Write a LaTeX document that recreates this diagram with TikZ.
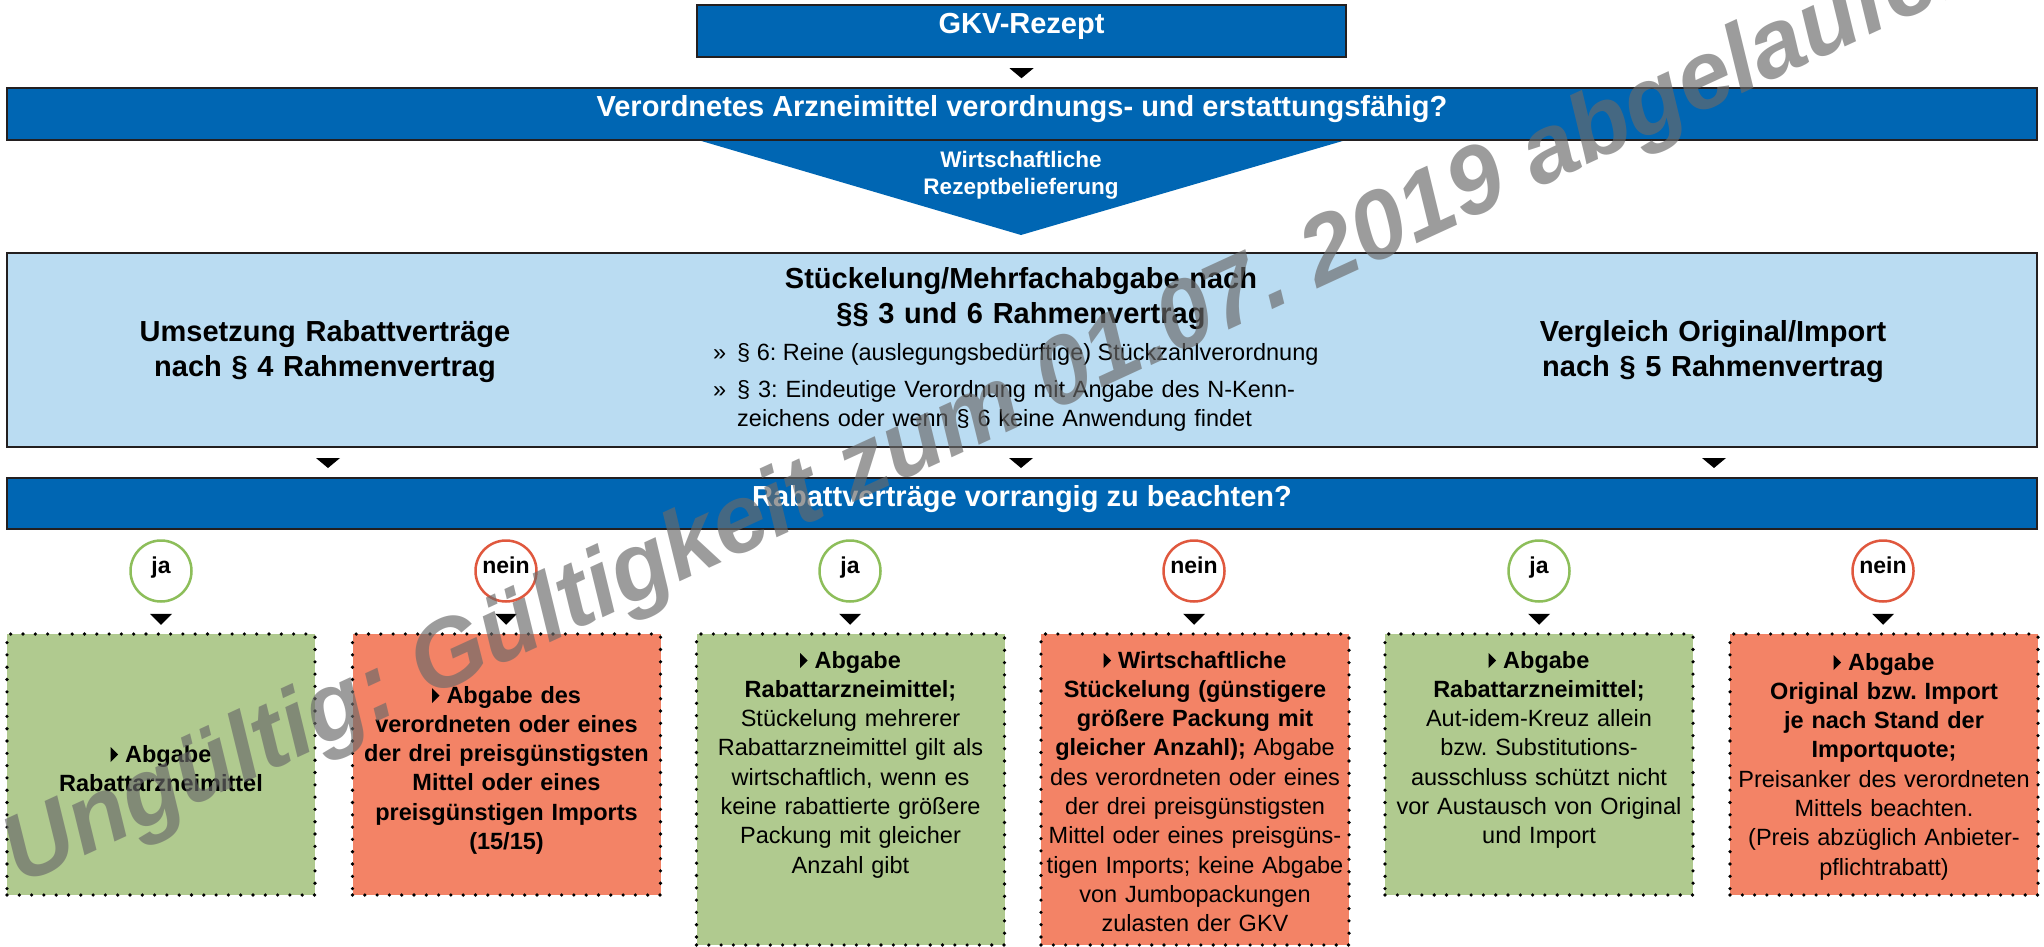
\documentclass[tikz,border=0pt]{standalone}
\usepackage{fontspec}
\setmainfont{Liberation Sans}
\usetikzlibrary{calc}
\frenchspacing
\definecolor{kblue}{RGB}{0,102,179}
\definecolor{klight}{RGB}{186,220,242}
\definecolor{kdark}{RGB}{35,31,32}
\definecolor{kgreen}{RGB}{176,202,143}
\definecolor{kred}{RGB}{243,131,102}
\definecolor{cgreen}{RGB}{141,190,90}
\definecolor{cred}{RGB}{224,88,62}
\definecolor{wmgray}{RGB}{106,106,106}
\newcommand\kHead{\fontsize{29}{35}\selectfont\bfseries}
\newcommand\kBody{\fontsize{23.5}{29.3}\selectfont}
\newcommand\kSmall{\fontsize{22.5}{27}\selectfont\bfseries}
\newcommand\ktri{\tikz[x=1pt,y=1pt,baseline=0pt]\fill[black] (0,0) -- (0,15) -- (7.5,7.5) -- cycle;\hspace{7pt}}
\tikzset{
  oneline/.style={text height=0.75em, text depth=0.17em},
  bar/.style={rectangle, fill=kblue, draw=kdark, line width=2.5pt, text=white, font=\kHead, oneline, inner sep=0pt},
  lbbox/.style={rectangle, fill=klight, draw=kdark, line width=2.5pt, inner sep=0pt},
  circ/.style={circle, minimum size=61pt, line width=2.5pt, inner sep=0pt, font=\fontsize{23}{27}\selectfont\bfseries, oneline, fill=white},
  dotbox/.style={rectangle, draw=black, line width=3.6pt, dash pattern=on 0pt off 12.3pt, line cap=round, inner sep=0pt, minimum width=308pt},
  gbox/.style={dotbox, fill=kgreen},
  rbox/.style={dotbox, fill=kred},
  boxtext/.style={anchor=base, text width=300pt, align=center, font=\kBody, inner sep=0pt},
  headtext/.style={anchor=base, text width=520pt, align=center, font=\kHead, inner sep=0pt},
  tip/.style={fill=black},
  wm/.style={text=wmgray, text opacity=0.66, font=\fontsize{96}{96}\selectfont\bfseries\itshape, inner sep=0pt}
}
\begin{document}
\begin{tikzpicture}[x=1pt,y=-1pt]
\clip (0,0) rectangle (2044,947);
\fill[white] (0,0) rectangle (2044,947);

% top
\node[bar, minimum width=649pt, minimum height=52pt] (gkv) at (1021.5,31) {GKV-Rezept};
\fill[tip] ($(gkv.south)+(-12,10)$) -- ++(24,0) -- ++(-12,10) -- cycle;
\fill[kblue] (698,140) -- (1346,140) -- (1021,235) -- cycle;
\node[bar, minimum width=2030pt, minimum height=52pt] (q1) at (1022,114) {Verordnetes Arzneimittel verordnungs- und erstattungsfähig?};
\node[anchor=base, text width=260pt, align=center, font=\kSmall, text=white, inner sep=0pt] (wr) at (1021,167) {Wirtschaftliche\\Rezeptbelieferung};

% light blue panel
\node[lbbox, minimum width=2030pt, minimum height=194pt] (lb) at (1022,350) {};
\node[headtext] (h1) at (325,341) {Umsetzung Rabattverträge\\nach § 4 Rahmenvertrag};
\node[headtext] (h2) at (1021,288) {Stückelung/Mehrfachabgabe nach\\§§ 3 und 6 Rahmenvertrag};
\node[headtext] (h3) at (1713,341) {Vergleich Original/Import\\nach § 5 Rahmenvertrag};
\node[anchor=base west, font=\kBody, inner sep=0pt] (m1) at (713,360) {»};
\node[anchor=base west, font=\kBody, inner sep=0pt] (m2) at (713,397) {»};
\node[anchor=base west, font=\kBody, inner sep=0pt] (t1) at (737,360) {§ 6: Reine (auslegungsbedürftige) Stückzahlverordnung};
\node[anchor=base west, font=\kBody, inner sep=0pt, text width=620pt, align=left] (t2) at (737,397) {§ 3: Eindeutige Verordnung mit Angabe des N-Kenn-\\zeichens oder wenn § 6 keine Anwendung findet};

\foreach \x in {328,1021,1714}{
  \fill[tip] (\x-12,458) -- (\x+12,458) -- (\x,468) -- cycle;
}

\node[bar, minimum width=2030pt, minimum height=51pt] (q2) at (1022,503.5) {Rabattverträge vorrangig zu beachten?};

% circles
\node[circ, draw=cgreen] (c1) at (161,571) {ja};
\node[circ, draw=cred]   (c2) at (506,571) {nein};
\node[circ, draw=cgreen] (c3) at (850,571) {ja};
\node[circ, draw=cred]   (c4) at (1194,571) {nein};
\node[circ, draw=cgreen] (c5) at (1539,571) {ja};
\node[circ, draw=cred]   (c6) at (1883,571) {nein};
\foreach \c in {c1,c2,c3,c4,c5,c6}{
  \fill[tip] ($(\c.south)+(-11,11)$) -- ++(22,0) -- ++(-11,11) -- cycle;
}

% boxes
\node[gbox, minimum height=261pt] (b1) at (161,764.5) {};
\node[rbox, minimum height=261pt] (b2) at (506.5,764.5) {};
\node[gbox, minimum height=311pt] (b3) at (850.5,789.5) {};
\node[rbox, minimum height=311pt] (b4) at (1195,789.5) {};
\node[gbox, minimum height=261pt] (b5) at (1539,764.5) {};
\node[rbox, minimum height=261pt] (b6) at (1884,764.5) {};

\node[boxtext] (x1) at (161,762) {\bfseries\ktri Abgabe\\Rabattarzneimittel};
\node[boxtext] (x2) at (506.5,703) {\bfseries\ktri Abgabe des\\verordneten oder eines\\der drei preisgünstigsten\\Mittel oder eines\\preisgünstigen Imports\\(15/15)};
\node[boxtext] (x3) at (850.5,668) {{\bfseries\ktri Abgabe\\Rabattarzneimittel;}\\Stückelung mehrerer\\Rabattarzneimittel gilt als\\wirtschaftlich, wenn es\\keine rabattierte größere\\Packung mit gleicher\\Anzahl gibt};
\node[boxtext] (x4) at (1195,668) {{\bfseries\ktri Wirtschaftliche\\Stückelung (günstigere\\größere Packung mit\\gleicher Anzahl);} Abgabe\\des verordneten oder eines\\der drei preisgünstigsten\\Mittel oder eines preisgüns-\\tigen Imports; keine Abgabe\\von Jumbopackungen\\zulasten der GKV};
\node[boxtext] (x5) at (1539,668) {{\bfseries\ktri Abgabe\\Rabattarzneimittel;}\\Aut-idem-Kreuz allein\\bzw. Substitutions-\\ausschluss schützt nicht\\vor Austausch von Original\\und Import};
\node[boxtext] (x6) at (1884,670) {{\bfseries\ktri Abgabe\\Original bzw. Import\\je nach Stand der\\Importquote;}\\Preisanker des verordneten\\Mittels beachten.\\(Preis abzüglich Anbieter-\\pflichtrabatt)};

% watermark
\node[wm, rotate=24.7, anchor=base west] (wmk) at (20,886) {Ungültig: Gültigkeit zum 01.07. 2019 abgelaufen};
\end{tikzpicture}
\end{document}
